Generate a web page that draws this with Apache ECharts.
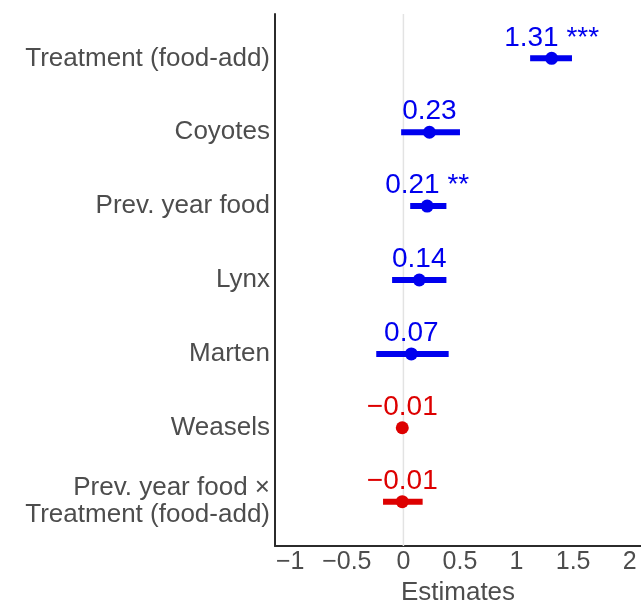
<!DOCTYPE html>
<html>
<head>
<meta charset="utf-8">
<script src="https://cdn.jsdelivr.net/npm/echarts@6/dist/echarts.min.js"></script>
<style>
  html, body { margin: 0; padding: 0; background: #ffffff; }
  #chart { width: 641px; height: 602px; }
</style>
</head>
<body>
<div id="chart"></div>
<script>
// Model terms, top to bottom
const categories = [
  'Treatment (food-add)',
  'Coyotes',
  'Prev. year food',
  'Lynx',
  'Marten',
  'Weasels',
  'Prev. year food ×\nTreatment (food-add)'
];
// Point estimates and confidence bounds
const estimates = [1.31, 0.23, 0.21, 0.14, 0.07, -0.01, -0.01];
const ciLow     = [1.12, -0.02, 0.06, -0.10, -0.24, -0.02, -0.18];
const ciHigh    = [1.49, 0.50, 0.38, 0.38, 0.40, 0.00, 0.17];
// Significance markers
const stars = ['***', '', '**', '', '', '', ''];
// X axis tick values
const xTicks = [-1, -0.5, 0, 0.5, 1, 1.5, 2];

const POS = '#0000ee';
const NEG = '#dd0000';
const FONT = '"Liberation Sans", Arial, Helvetica, sans-serif';
const minus = s => String(s).replace('-', '\u2212');
const colorOf = v => (v >= 0 ? POS : NEG);

const rows = categories.map((_, i) => i);
const Y_MIN = -0.6;
const Y_MAX = rows.length - 1 + 0.6;

const pointData = rows.map(i => ({
  value: [estimates[i], i],
  itemStyle: { color: colorOf(estimates[i]), opacity: 1 },
  label: { color: colorOf(estimates[i]) }
}));

const barData = rows.map(i => [ciLow[i], ciHigh[i], i, estimates[i]]);

const chart = echarts.init(document.getElementById('chart'), null, { renderer: 'canvas' });

chart.setOption({
  animation: false,
  backgroundColor: '#ffffff',
  textStyle: { fontFamily: FONT },
  grid: { left: 275, right: 0, top: 14, bottom: 56, containLabel: false, outerBoundsMode: 'none' },
  xAxis: {
    type: 'value',
    min: -1.135,
    max: 2.1,
    name: 'Estimates',
    nameLocation: 'middle',
    nameGap: 29,
    nameTextStyle: { fontFamily: FONT, fontSize: 26, color: '#4d4d4d' },
    axisLine: { show: true, onZero: false, lineStyle: { color: '#2b2b2b', width: 2 } },
    axisTick: { show: false },
    splitLine: { show: false },
    axisLabel: {
      customValues: xTicks,
      formatter: v => minus(v),
      fontFamily: FONT,
      fontSize: 25,
      color: '#4d4d4d',
      margin: 4
    }
  },
  yAxis: {
    type: 'value',
    inverse: true,
    min: Y_MIN,
    max: Y_MAX,
    axisLine: { show: true, onZero: false, lineStyle: { color: '#2b2b2b', width: 2 } },
    axisTick: { show: false },
    splitLine: { show: false },
    axisLabel: {
      customValues: rows,
      formatter: v => categories[v],
      fontFamily: FONT,
      fontSize: 26,
      lineHeight: 27,
      color: '#4d4d4d',
      align: 'right',
      margin: 5
    }
  },
  series: [
    {
      // reference line at zero
      type: 'custom',
      data: [[0]],
      encode: { x: 0 },
      z: 1,
      silent: true,
      renderItem: (params, api) => {
        const a = api.coord([api.value(0), Y_MIN]);
        const b = api.coord([api.value(0), Y_MAX]);
        return {
          type: 'line',
          shape: { x1: a[0], y1: a[1], x2: b[0], y2: b[1] },
          style: { stroke: '#e3e3e3', lineWidth: 1.5 }
        };
      }
    },
    {
      // confidence intervals
      type: 'custom',
      data: barData,
      encode: { x: [0, 1], y: 2 },
      z: 3,
      renderItem: (params, api) => {
        const p1 = api.coord([api.value(0), api.value(2)]);
        const p2 = api.coord([api.value(1), api.value(2)]);
        return {
          type: 'line',
          shape: { x1: p1[0], y1: p1[1], x2: p2[0], y2: p2[1] },
          style: { stroke: colorOf(api.value(3)), lineWidth: 6, lineCap: 'butt' }
        };
      }
    },
    {
      // point estimates with value labels
      type: 'scatter',
      data: pointData,
      symbol: 'circle',
      symbolSize: 13,
      z: 10,
      itemStyle: { opacity: 1 },
      label: {
        show: true,
        position: 'top',
        distance: 0,
        fontFamily: FONT,
        fontSize: 28,
        opacity: 1,
        formatter: p => {
          const i = p.value[1];
          return minus(estimates[i].toFixed(2)) + (stars[i] ? ' ' + stars[i] : '');
        }
      }
    }
  ]
});
</script>
</body>
</html>
